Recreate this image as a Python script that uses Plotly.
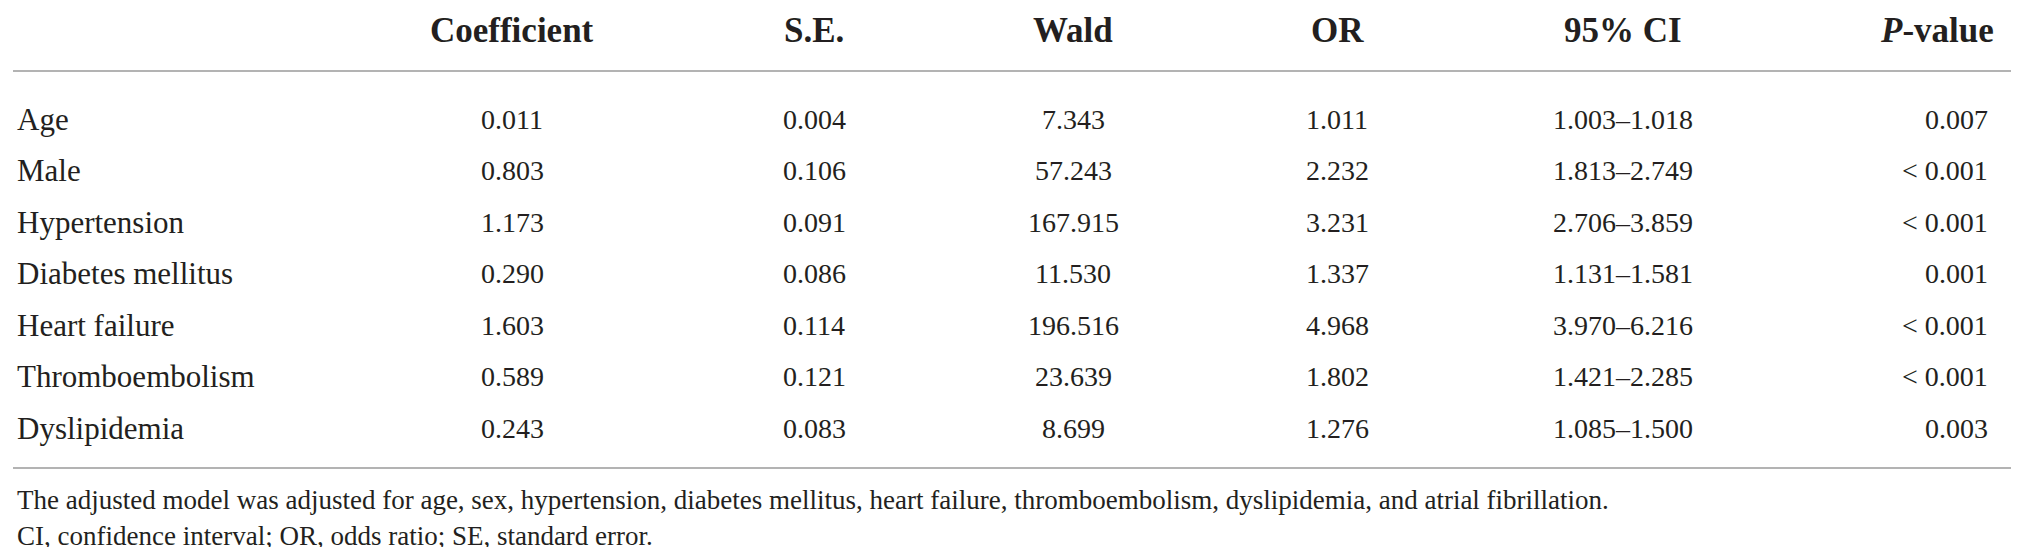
import plotly.graph_objects as go

W, H = 2019, 547

headers = ["", "Coefficient", "S.E.", "Wald", "OR", "95% CI", "<i>P</i>-value"]
variables = ["Age", "Male", "Hypertension", "Diabetes mellitus", "Heart failure",
             "Thromboembolism", "Dyslipidemia"]
coefficient = ["0.011", "0.803", "1.173", "0.290", "1.603", "0.589", "0.243"]
se = ["0.004", "0.106", "0.091", "0.086", "0.114", "0.121", "0.083"]
wald = ["7.343", "57.243", "167.915", "11.530", "196.516", "23.639", "8.699"]
odds_ratio = ["1.011", "2.232", "3.231", "1.337", "4.968", "1.802", "1.276"]
ci95 = ["1.003\u20131.018", "1.813\u20132.749", "2.706\u20133.859", "1.131\u20131.581",
        "3.970\u20136.216", "1.421\u20132.285", "1.085\u20131.500"]
p_value = ["0.007", "< 0.001", "< 0.001", "0.001", "< 0.001", "< 0.001", "0.003"]
footnotes = [
    "The adjusted model was adjusted for age, sex, hypertension, diabetes mellitus, heart failure, "
    "thromboembolism, dyslipidemia, and atrial fibrillation.",
    "CI, confidence interval; OR, odds ratio; SE, standard error.",
]

FONT = "Liberation Serif"
TXT = "#231f20"
LINE = "#9a9a9a"
LABEL_SIZE = 31
NUM_SIZE = 28
FOOT_SIZE = 27
HEAD = 35

# column layout (pixels)
col_x = [7, 504, 806, 1065, 1329, 1615, 1982]
col_anchor = ["left", "center", "center", "center", "center", "center", "right"]
header_y = 22
row_y0, row_step = 111, 51.5
line_top, line_bottom = 63, 460
foot_y = [492, 528]

columns = [variables, coefficient, se, wald, odds_ratio, ci95, p_value]


def esc(s):
    return s.replace("<", "&lt;").replace(">", "&gt;")


fig = go.Figure()
fig.add_trace(go.Scatter(x=[0, W], y=[0, H], mode="markers",
                         marker=dict(opacity=0), hoverinfo="skip", showlegend=False))

ann = []
for ci, h in enumerate(headers):
    if h:
        ann.append(dict(x=col_x[ci] + (6 if ci == 6 else 0), y=header_y, text="<b>" + h + "</b>",
                        xanchor=col_anchor[ci], yanchor="middle", showarrow=False,
                        font=dict(family=FONT, size=HEAD, color=TXT)))
for ci, col in enumerate(columns):
    size = LABEL_SIZE if ci == 0 else NUM_SIZE
    for ri, v in enumerate(col):
        ann.append(dict(x=col_x[ci], y=row_y0 + ri * row_step,
                        text=esc(v), xanchor=col_anchor[ci], yanchor="middle",
                        showarrow=False, font=dict(family=FONT, size=size, color=TXT)))
for fi, f in enumerate(footnotes):
    ann.append(dict(x=7, y=foot_y[fi], text=f, xanchor="left", yanchor="middle",
                    showarrow=False, font=dict(family=FONT, size=FOOT_SIZE, color=TXT)))

shapes = [
    dict(type="line", x0=5, x1=2013, y0=line_top, y1=line_top, line=dict(color=LINE, width=1.5)),
    dict(type="line", x0=5, x1=2013, y0=line_bottom, y1=line_bottom, line=dict(color=LINE, width=1.5)),
]

fig.update_layout(
    width=W, height=H, margin=dict(l=0, r=0, t=0, b=0),
    paper_bgcolor="white", plot_bgcolor="white",
    xaxis=dict(range=[0, W], visible=False, fixedrange=True),
    yaxis=dict(range=[H, 0], visible=False, fixedrange=True),
    annotations=ann, shapes=shapes, showlegend=False,
)

fig.write_html("out.html", config={"displayModeBar": False})
